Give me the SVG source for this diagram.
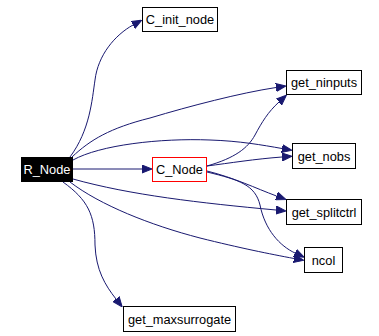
<svg xmlns="http://www.w3.org/2000/svg" width="379" height="336" viewBox="0 0 379 336">
  <style>
    .box { fill: #ffffff; stroke: #000000; stroke-width: 1; }
    .root { fill: #000000; stroke: #000000; stroke-width: 1; }
    .cur { fill: #ffffff; stroke: #ff0000; stroke-width: 1; }
    .lbl { font-family: "Liberation Sans", Arial, sans-serif; font-size: 12.8px; text-anchor: middle; fill: #000000; }
    .lbl-w { fill: #ffffff; }
    .edge { fill: none; stroke: #191970; stroke-width: 1; marker-end: url(#arrow); }
  </style>
  <defs>
    <marker id="arrow" markerUnits="userSpaceOnUse" markerWidth="10" markerHeight="9" viewBox="0 0 10 9" refX="0" refY="4.5" orient="auto">
      <path d="M0,0.5 L10,4.5 L0,8.5 z" fill="#191970" stroke="#191970" stroke-width="1"/>
    </marker>
  </defs>
  <rect width="379" height="336" fill="#ffffff"/>

  <g id="edges">
    <path class="edge" d="M70,157 C90,130 92,100 95,80 C98,55 115,35 133,25"/>
    <path class="edge" d="M72,157 C90,140 110,128 150,118 C190,106 240,93 276,87.5"/>
    <path class="edge" d="M73,160 C100,145 160,138 210,140 C240,141 262,145 282,148.5"/>
    <path class="edge" d="M73,169 L142,169"/>
    <path class="edge" d="M73,179 C130,195 200,203 276,210"/>
    <path class="edge" d="M70,182 C100,205 150,225 200,238 C240,248 270,254 294,258.5"/>
    <path class="edge" d="M63,182 C88,200 95,215 95,245 C96,270 105,285 116,299"/>
    <path class="edge" d="M207,166 C235,158 248,148 255,135 C262,122 268,112 279,102"/>
    <path class="edge" d="M207,166 C230,163 255,159 282,157"/>
    <path class="edge" d="M207,171 C235,178 255,188 276.5,196"/>
    <path class="edge" d="M207,172 C240,180 255,185 260,205 C265,230 280,246 295,253"/>
  </g>

  <g id="R_Node">
    <rect class="root" x="21.5" y="157.5" width="51" height="24"/>
    <text class="lbl lbl-w" x="47" y="174">R_Node</text>
  </g>
  <g id="C_Node">
    <rect class="cur" x="152.5" y="157.5" width="54" height="24"/>
    <text class="lbl" x="179.5" y="174">C_Node</text>
  </g>
  <g id="C_init_node">
    <rect class="box" x="142.5" y="7.5" width="75" height="24"/>
    <text class="lbl" x="180" y="24">C_init_node</text>
  </g>
  <g id="get_ninputs">
    <rect class="box" x="286.5" y="70.5" width="75" height="24"/>
    <text class="lbl" x="324" y="87">get_ninputs</text>
  </g>
  <g id="get_nobs">
    <rect class="box" x="292.5" y="143.5" width="63" height="25"/>
    <text class="lbl" x="324" y="160.5">get_nobs</text>
  </g>
  <g id="get_splitctrl">
    <rect class="box" x="286.5" y="199.5" width="75" height="25"/>
    <text class="lbl" x="324" y="216.5">get_splitctrl</text>
  </g>
  <g id="ncol">
    <rect class="box" x="304.5" y="247.5" width="38" height="25"/>
    <text class="lbl" x="323.5" y="264.5">ncol</text>
  </g>
  <g id="get_maxsurrogate">
    <rect class="box" x="123.5" y="306.5" width="112" height="25"/>
    <text class="lbl" x="179.5" y="323.5">get_maxsurrogate</text>
  </g>
</svg>
